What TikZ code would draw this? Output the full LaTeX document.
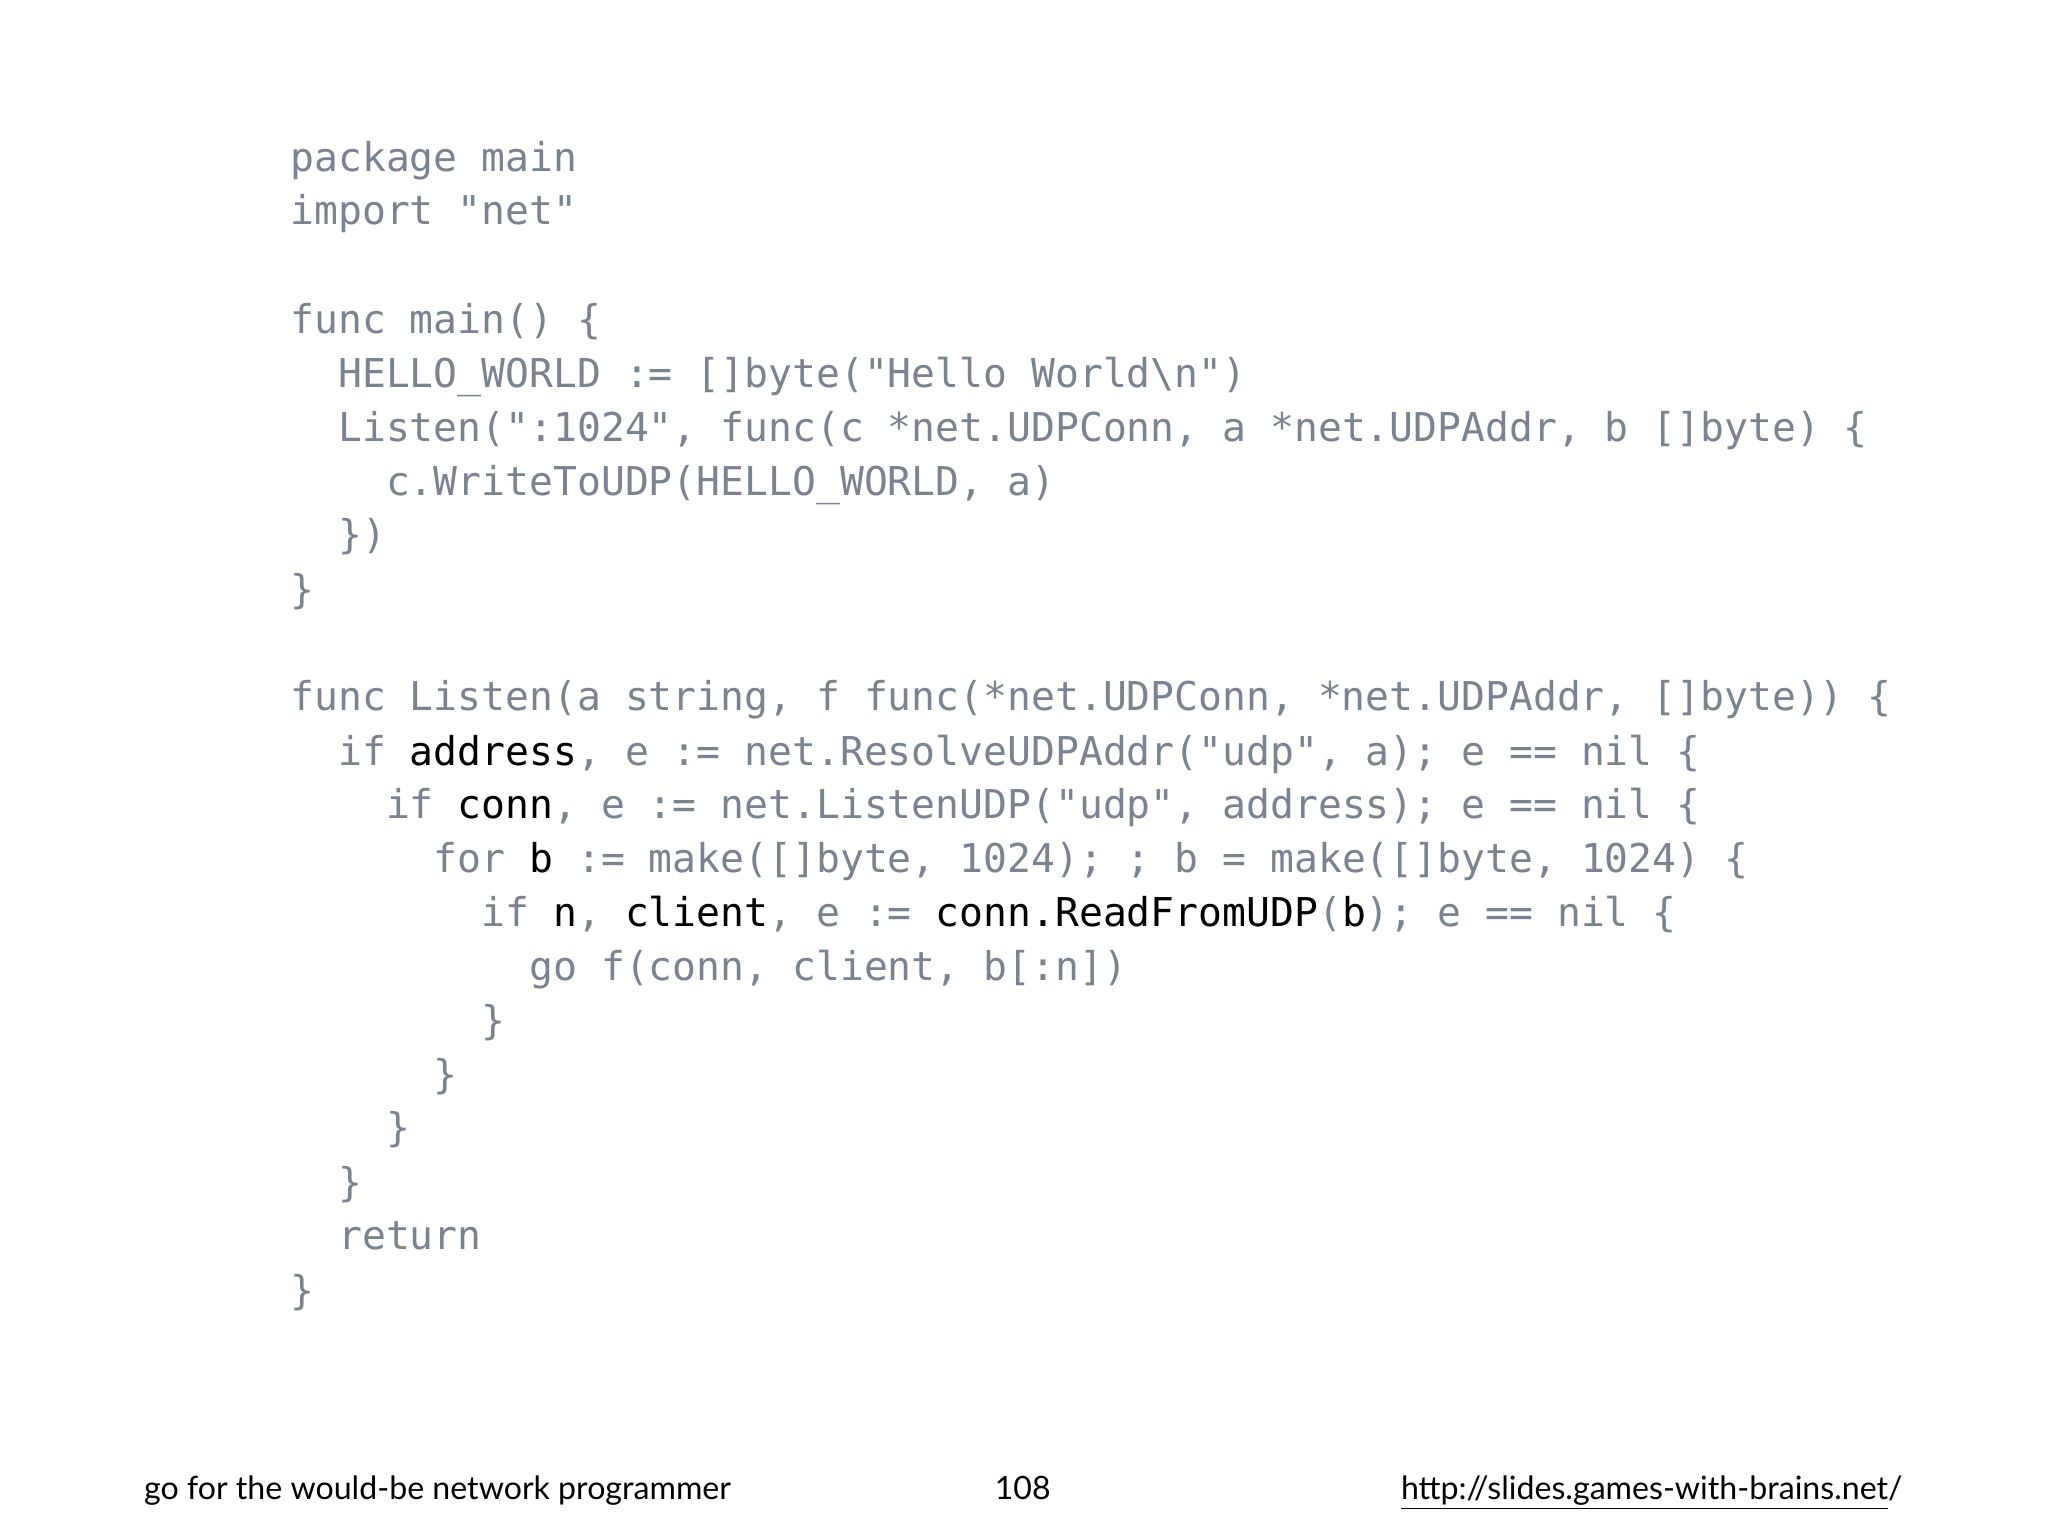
\documentclass[tikz,border=0pt]{standalone}
\usepackage{fontspec}
\setmonofont{DejaVu Sans Mono}
\setmainfont{Lato}
\definecolor{codegray}{HTML}{7B8391}
\newcommand{\K}[1]{\textcolor{black}{#1}}
\begin{document}
\begin{tikzpicture}[x=0.02cm,y=-0.02cm,
  code/.style={anchor=base west,inner sep=0,text=codegray,font=\fontsize{17.3pt}{20pt}\ttfamily},
  foot/.style={anchor=base,inner sep=0,text=black,font=\fontsize{14pt}{16pt}\selectfont}]
\fill[white] (0,0) rectangle (1568,1176);
\useasboundingbox (0,0) rectangle (1568,1176);
\def\xo{222}
\def\ci{18.3}
\node[code] (l1) at (\xo,131) {package main};
\node[code] (l2) at (\xo,172) {import "net"};
\node[code] (l3) at (\xo,255) {func main() \{};
\node[code] (l4) at (\xo+2*\ci,297) {HELLO\_WORLD := []byte("Hello World\textbackslash n")};
\node[code] (l5) at (\xo+2*\ci,338) {Listen(":1024", func(c *net.UDPConn, a *net.UDPAddr, b []byte) \{};
\node[code] (l6) at (\xo+4*\ci,379) {c.WriteToUDP(HELLO\_WORLD, a)};
\node[code] (l7) at (\xo+2*\ci,420) {\})};
\node[code] (l8) at (\xo,462) {\}};
\node[code] (l9) at (\xo,544) {func Listen(a string, f func(*net.UDPConn, *net.UDPAddr, []byte)) \{};
\node[code] (l10) at (\xo+2*\ci,586) {if \K{address}, e := net.ResolveUDPAddr("udp", a); e == nil \{};
\node[code] (l11) at (\xo+4*\ci,627) {if \K{conn}, e := net.ListenUDP("udp", address); e == nil \{};
\node[code] (l12) at (\xo+6*\ci,668) {for \K{b} := make([]byte, 1024); ; b = make([]byte, 1024) \{};
\node[code] (l13) at (\xo+8*\ci,709) {if \K{n}, \K{client}, e := \K{conn.ReadFromUDP}(\K{b}); e == nil \{};
\node[code] (l14) at (\xo+10*\ci,751) {go f(conn, client, b[:n])};
\node[code] (l15) at (\xo+8*\ci,792) {\}};
\node[code] (l16) at (\xo+6*\ci,833) {\}};
\node[code] (l17) at (\xo+4*\ci,874) {\}};
\node[code] (l18) at (\xo+2*\ci,916) {\}};
\node[code] (l19) at (\xo+2*\ci,957) {return};
\node[code] (l20) at (\xo,999) {\}};
\node[foot,anchor=base west] (f1) at (110,1148) {go for the would-be network programmer};
\node[foot] (f2) at (783,1148) {108};
\node[foot,anchor=base east] (f3) at (1457,1148) {\underline{http://slides.games-with-brains.net}/};
\end{tikzpicture}
\end{document}
